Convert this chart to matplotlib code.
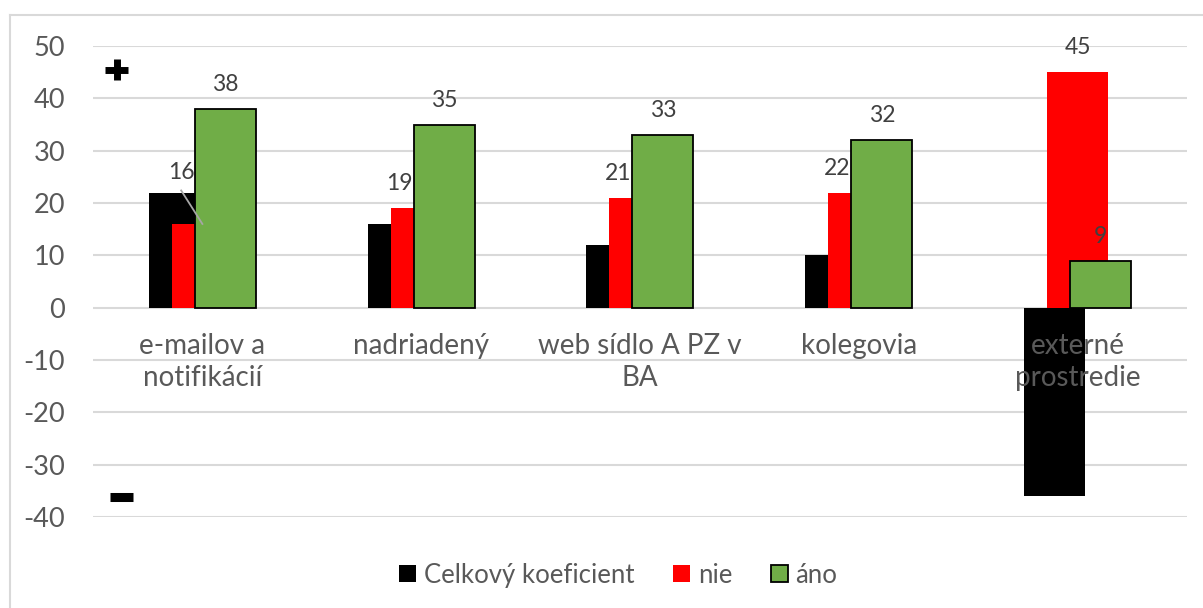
import matplotlib.pyplot as plt
from matplotlib.lines import Line2D
import numpy as np

plt.rcParams['font.family'] = ['Lato', 'DejaVu Sans']
plt.rcParams['axes.unicode_minus'] = False

# data
kategorie = ["e-mailov a\nnotifikácií", "nadriadený", "web sídlo A PZ v\nBA", "kolegovia", "externé\nprostredie"]
celkovy = [22, 16, 12, 10, -36]
nie = [16, 19, 21, 22, 45]
ano = [38, 35, 33, 32, 9]
nazvy = ["Celkový koeficient", "nie", "áno"]

sivy = "#595959"
x = np.arange(len(kategorie))
sirka = 0.279
posun = 0.105

fig = plt.figure(figsize=(12.03, 6.08), dpi=100)
ax = fig.add_axes([0.0773, 0.1497, 0.9094, 0.7746])

# mriezka
for y in range(-40, 51, 10):
    ax.axhline(y, color="#D9D9D9", lw=1.5, zorder=0)

ax.bar(x - posun, celkovy, sirka, color="black", label=nazvy[0], zorder=2)
ax.bar(x, nie, sirka, color="#FF0000", label=nazvy[1], zorder=3)
ax.bar(x + posun, ano, sirka, color="#70AD47", edgecolor="black", lw=1.3, label=nazvy[2], zorder=4)

# popisky hodnot (cervene su posunute dolava ako v povodnom grafe)
for i in range(len(x)):
    if i == 0:
        ax.text(x[i] - 0.095, 25.8, str(nie[i]), ha="center", va="center", fontsize=16.5, color="#404040", zorder=6)
        ax.plot([x[i] - 0.097, x[i]], [22.4, 16], color="#A6A6A6", lw=1.3, zorder=6)
    else:
        dx = 0 if i == 4 else -0.1
        ax.annotate(str(nie[i]), (x[i] + dx, nie[i]), xytext=(0, 17.5), textcoords="offset points",
                    ha="center", va="center", fontsize=16.5, color="#404040", zorder=6)
    ax.annotate(str(ano[i]), (x[i] + posun, ano[i]), xytext=(0, 17.5), textcoords="offset points",
                ha="center", va="center", fontsize=16.5, color="#404040", zorder=6)

# nazvy kategorii
for i, k in enumerate(kategorie):
    ax.text(x[i], -4.9, k, ha="center", va="top", fontsize=20, color=sivy, linespacing=1.26, zorder=5)

# plus / minus
ax.plot([-0.445, -0.340], [45.5, 45.5], color="black", lw=5, solid_capstyle="butt")
ax.plot([-0.392, -0.392], [47.5, 43.5], color="black", lw=5, solid_capstyle="butt")
ax.plot([-0.422, -0.317], [-36.2, -36.2], color="black", lw=6.5, solid_capstyle="butt")

ax.set_xlim(-0.5, 4.5)
ax.set_ylim(-40, 50)
ax.set_yticks(range(-40, 51, 10))
ax.set_xticks([])
ax.tick_params(axis="y", length=0, labelsize=19.5, labelcolor=sivy, pad=20)
for s in ax.spines.values():
    s.set_visible(False)

fig.legend(loc="center", bbox_to_anchor=(0.514, 0.054), ncol=3, frameon=False, fontsize=18.5,
           handlelength=0.66, handleheight=0.66, handletextpad=0.3, columnspacing=1.5, labelcolor=sivy)

# ramcek
fig.add_artist(Line2D([0.0083, 0.0083], [0, 0.975], color="#D9D9D9", lw=1.5))
fig.add_artist(Line2D([0.0083, 1], [0.975, 0.975], color="#D9D9D9", lw=1.5))

fig.savefig("out.png", dpi=100)
